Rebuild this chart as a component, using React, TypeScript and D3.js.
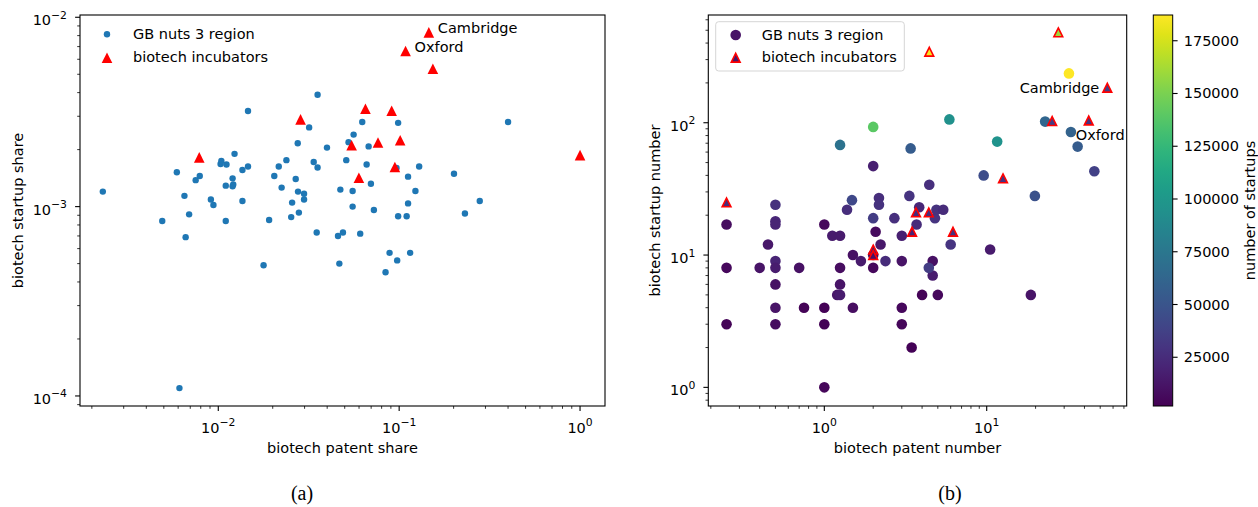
import * as d3 from 'd3';

// ---- panel (a): shares ----
const regionPatentShare = [
  0.0023, 0.0049, 0.0059, 0.0065, 0.0066, 0.0069, 0.0075, 0.0079, 0.0091, 0.0094,
  0.0103, 0.0104, 0.0111, 0.011, 0.011, 0.012, 0.012, 0.0121, 0.0123, 0.0136,
  0.0146, 0.0136, 0.0146, 0.0178, 0.0191, 0.0204, 0.0216, 0.0224, 0.0238, 0.0256,
  0.0253, 0.0268, 0.0275, 0.0276, 0.0279, 0.0298, 0.0298, 0.0318, 0.0337, 0.0354,
  0.035, 0.0354, 0.0399, 0.0473, 0.0459, 0.0489, 0.0467, 0.0625, 0.0987, 0.056,
  0.0525, 0.0678, 0.051, 0.0661, 0.0967, 0.129, 0.112, 0.0698, 0.0553, 0.123,
  0.0553, 0.0725, 0.112, 0.0987, 0.11, 0.0609, 0.0885, 0.115, 0.0975, 0.0841,
  0.201, 0.279, 0.231, 0.4, 0.0061,
];
const regionStartupShare = [
  0.0012, 0.00084, 0.00152, 0.00114, 0.00069, 0.00091, 0.00138, 0.00145, 0.00109, 0.00102,
  0.00168, 0.00174, 0.00167, 0.00129, 0.00084, 0.00141, 0.00128, 0.00131, 0.0019, 0.00156,
  0.00163, 0.00107, 0.0032, 0.00049, 0.00085, 0.00145, 0.00163, 0.00126, 0.00176, 0.00105,
  0.00088, 0.0014, 0.00216, 0.0012, 0.00093, 0.00117, 0.00109, 0.00262, 0.00172, 0.00161,
  0.00073, 0.0039, 0.00205, 0.00123, 0.0007, 0.00073, 0.0005, 0.0028, 0.00277, 0.0024,
  0.00219, 0.00208, 0.00176, 0.00167, 0.0016, 0.00163, 0.00144, 0.00132, 0.00121, 0.00121,
  0.001, 0.00096, 0.00104, 0.00089, 0.00089, 0.00072, 0.00057, 0.00057, 0.00052, 0.00045,
  0.00149, 0.00107, 0.00092, 0.0028, 0.00011,
];
const incubPatentShare = [0.1459, 0.1085, 0.1536, 0.0651, 0.0909, 0.0285, 0.0546, 0.0764, 0.1013, 0.0947, 0.0599, 1.0, 0.00785];
const incubStartupShare = [0.00832, 0.00663, 0.00535, 0.00329, 0.00321, 0.00289, 0.00211, 0.00218, 0.00224, 0.00162, 0.00142, 0.00187, 0.00182];
const labelsA = [
  { i: 0, text: 'Cambridge' },
  { i: 1, text: 'Oxford' },
];

// ---- panel (b): counts ----
const regionPatents = [
  0.25, 0.25, 0.25, 0.5, 0.5, 0.5, 0.5, 0.5, 0.5, 0.5,
  0.5, 0.45, 0.4, 0.7, 0.75, 1, 1, 1, 1, 1.12,
  1.25, 1.25, 1.25, 1.2, 1.25, 1.5, 1.5, 1.38, 1.48, 1.25,
  1.68, 2, 2, 2, 2, 2, 2.07, 2.17, 2.17, 2.22,
  2.38, 2.7, 3, 3, 3, 3, 3.34, 3.4, 3.45, 3.7,
  3.84, 4, 5, 4.65, 4.65, 4.4, 4.43, 4.8, 4.9, 5.4,
  6, 10.5, 18.7, 5.89, 11.6, 9.58, 19.8, 22.9, 32.1, 33,
  36.3, 46,
];
const regionStartups = [
  17, 8, 3, 24, 18, 17, 9, 8, 6, 4,
  3, 12, 8, 8, 4, 17, 4, 3, 1, 14,
  14, 8, 6, 5, 5, 4, 10, 22, 26, 68,
  9, 8, 10, 19, 47, 93, 15, 27, 24, 12,
  9, 19, 14, 9, 4, 3, 28, 64, 2, 17,
  23, 5, 5, 9, 7, 8, 34, 19, 22, 22,
  12, 11, 5, 106, 72, 40, 28, 102, 236, 85,
  66, 43,
];
const regionTotal = [
  8000, 6000, 4000, 28000, 22000, 20000, 20000, 16000, 10000, 12000,
  8000, 14000, 12000, 10000, 4000, 6000, 3000, 3000, 5000, 15000,
  15000, 8000, 12000, 14000, 16000, 9000, 10000, 26000, 42000, 72000,
  15000, 6000, 8000, 35000, 18000, 140000, 7000, 26000, 28000, 14000,
  25000, 27000, 18000, 12000, 6000, 5000, 30000, 55000, 3000, 25000,
  22000, 4000, 6000, 10000, 16000, 35000, 27000, 30000, 28000, 25000,
  30000, 15000, 12000, 95000, 97000, 45000, 48000, 62000, 187000, 60000,
  55000, 38000,
];
const incubPatents = [0.25, 2, 2, 3.67, 4.4, 3.47, 6.2, 12.6, 25.3, 42.5, 55.3, 27.6, 4.43];
const incubStartups = [25, 11, 10, 21, 21, 15, 15, 38, 103, 104, 184, 482, 344];
const incubTotal = [25000, 18000, 10000, 25000, 25000, 20000, 28000, 30000, 35000, 30000, 35000, 160000, 185000];
const labelsB = [
  { i: 10, text: 'Cambridge', dx: -8, dy: 5.5, anchor: 'end' },
  { i: 9, text: 'Oxford', dx: -13, dy: 20, anchor: 'start' },
];
const cbTicks = [25000, 50000, 75000, 100000, 125000, 150000, 175000];

const FONT = 'DejaVu Sans, sans-serif';
const FS = 14.5;

function logTicks(lo: number, hi: number) {
  const out: { v: number; major: boolean; e: number }[] = [];
  for (let e = Math.floor(Math.log10(lo)); e <= Math.ceil(Math.log10(hi)); e++) {
    for (let m = 1; m < 10; m++) {
      const v = m * Math.pow(10, e);
      if (v >= lo * 0.9999 && v <= hi * 1.0001) out.push({ v, major: m === 1, e });
    }
  }
  return out;
}

function Pow({ e, ...rest }: any) {
  return (
    <text {...rest} fontFamily={FONT} fontSize={FS} fill="#000">
      10<tspan dy={-6.5} fontSize={10.8}>{e < 0 ? '\u2212' + -e : String(e)}</tspan>
    </text>
  );
}

function Axes({ x, y, box, xlabel, ylabel, ylabelX }: any) {
  const [xl, xh] = x.domain();
  const [yl, yh] = y.domain();
  const xt = logTicks(xl, xh);
  const yt = logTicks(yl, yh);
  return (
    <g>
      {xt.map((t, k) => (
        <line key={'x' + k} x1={x(t.v)} x2={x(t.v)} y1={box.y1} y2={box.y1 + (t.major ? 4.9 : 2.8)}
          stroke="#000" strokeWidth={t.major ? 1.1 : 0.8} />
      ))}
      {xt.filter(t => t.major).map((t, k) => (
        <Pow key={'xl' + k} e={t.e} x={x(t.v)} y={box.y1 + 26.5} textAnchor="middle" />
      ))}
      {yt.map((t, k) => (
        <line key={'y' + k} x1={box.x0} x2={box.x0 - (t.major ? 4.9 : 2.8)} y1={y(t.v)} y2={y(t.v)}
          stroke="#000" strokeWidth={t.major ? 1.1 : 0.8} />
      ))}
      {yt.filter(t => t.major).map((t, k) => (
        <Pow key={'yl' + k} e={t.e} x={box.x0 - 13} y={y(t.v) + 8} textAnchor="end" />
      ))}
      <rect x={box.x0} y={box.y0} width={box.x1 - box.x0} height={box.y1 - box.y0}
        fill="none" stroke="#000" strokeWidth={1.1} />
      <text x={(box.x0 + box.x1) / 2} y={453} textAnchor="middle" fontFamily={FONT} fontSize={FS}>{xlabel}</text>
      <text transform={`translate(${ylabelX},${(box.y0 + box.y1) / 2}) rotate(-90)`} textAnchor="middle"
        fontFamily={FONT} fontSize={FS}>{ylabel}</text>
    </g>
  );
}

const tri = (s: number) => `M0,${-s}L${s},${s}L${-s},${s}Z`;

export default function App() {
  const pa = { x0: 80, x1: 605, y0: 15, y1: 406 };
  const pb = { x0: 708.3, x1: 1126.7, y0: 15, y1: 406 };
  const cb = { x0: 1153.3, x1: 1172.7, y0: 15, y1: 406 };

  const xa = d3.scaleLog().domain([0.00172, 1.374]).range([pa.x0, pa.x1]);
  const ya = d3.scaleLog().domain([8.85e-5, 0.01028]).range([pa.y1, pa.y0]);
  const xb = d3.scaleLog().domain([0.193, 72.8]).range([pb.x0, pb.x1]);
  const yb = d3.scaleLog().domain([0.723, 652]).range([pb.y1, pb.y0]);
  const cmin = 1900, cmax = 187200;
  const color = d3.scaleSequential(d3.interpolateViridis).domain([cmin, cmax]);
  const cy = d3.scaleLinear().domain([cmin, cmax]).range([cb.y1, cb.y0]);
  const stops = d3.range(0, 1.0001, 0.05);

  return (
    <svg width={1258} height={507} style={{ position: 'absolute', left: 0, top: 0, background: '#fff' }}>
      <defs>
        <linearGradient id="vir" x1="0" y1="1" x2="0" y2="0">
          {stops.map((s, k) => <stop key={k} offset={s} stopColor={d3.interpolateViridis(s)} />)}
        </linearGradient>
      </defs>
      <rect width={1258} height={507} fill="#fff" />

      {/* panel (a) */}
      <g>
        {regionPatentShare.map((v, k) => (
          <circle key={k} cx={xa(v)} cy={ya(regionStartupShare[k])} r={3.2} fill="#1f77b4" />
        ))}
        {incubPatentShare.map((v, k) => (
          <path key={k} d={tri(5.3)} transform={`translate(${xa(v)},${ya(incubStartupShare[k])})`} fill="#ff0000" />
        ))}
        {labelsA.map(l => (
          <text key={l.text} x={xa(incubPatentShare[l.i]) + 9} y={ya(incubStartupShare[l.i]) + 1}
            fontFamily={FONT} fontSize={FS}>{l.text}</text>
        ))}
        <Axes x={xa} y={ya} box={pa} xlabel="biotech patent share" ylabel="biotech startup share" ylabelX={23} />
        <circle cx={107} cy={34.3} r={3.2} fill="#1f77b4" />
        <path d={tri(5.3)} transform="translate(107,57.8)" fill="#ff0000" />
        <text x={133} y={39.3} fontFamily={FONT} fontSize={FS}>GB nuts 3 region</text>
        <text x={133} y={61.5} fontFamily={FONT} fontSize={FS}>biotech incubators</text>
      </g>

      {/* panel (b) */}
      <g>
        {regionPatents.map((v, k) => (
          <circle key={k} cx={xb(v)} cy={yb(regionStartups[k])} r={5.3} fill={color(regionTotal[k])} />
        ))}
        {incubPatents.map((v, k) => (
          <path key={k} d={tri(4.4)} transform={`translate(${xb(v)},${yb(incubStartups[k])})`}
            fill={color(incubTotal[k])} stroke="#ff0000" strokeWidth={1.6} />
        ))}
        {labelsB.map(l => (
          <text key={l.text} x={xb(incubPatents[l.i]) + l.dx} y={yb(incubStartups[l.i]) + l.dy}
            textAnchor={l.anchor} fontFamily={FONT} fontSize={FS}>{l.text}</text>
        ))}
        <Axes x={xb} y={yb} box={pb} xlabel="biotech patent number" ylabel="biotech startup number" ylabelX={660} />
        <rect x={715.7} y={21.7} width={188.6} height={49.3} rx={3} fill="#fff" fillOpacity={0.8} stroke="#d5d5d5" />
        <circle cx={735.7} cy={35} r={5.3} fill={color(12000)} />
        <path d={tri(4.4)} transform="translate(735.7,57.7)" fill={color(12000)} stroke="#ff0000" strokeWidth={1.6} />
        <text x={761.7} y={40} fontFamily={FONT} fontSize={FS}>GB nuts 3 region</text>
        <text x={761.7} y={61.7} fontFamily={FONT} fontSize={FS}>biotech incubators</text>
      </g>

      {/* colorbar */}
      <g>
        <rect x={cb.x0} y={cb.y0} width={cb.x1 - cb.x0} height={cb.y1 - cb.y0} fill="url(#vir)" stroke="#000" strokeWidth={1} />
        {cbTicks.map(t => (
          <g key={t}>
            <line x1={cb.x1} x2={cb.x1 + 4.9} y1={cy(t)} y2={cy(t)} stroke="#000" strokeWidth={1.1} />
            <text x={cb.x1 + 11} y={cy(t) + 5} fontFamily={FONT} fontSize={FS}>{t}</text>
          </g>
        ))}
        <text transform={`translate(1255,${(cb.y0 + cb.y1) / 2}) rotate(-90)`} textAnchor="middle"
          fontFamily={FONT} fontSize={FS}>number of startups</text>
      </g>

      <text x={302} y={500} textAnchor="middle" fontFamily="Liberation Serif, serif" fontSize={20}>(a)</text>
      <text x={950} y={500} textAnchor="middle" fontFamily="Liberation Serif, serif" fontSize={20}>(b)</text>
    </svg>
  );
}
